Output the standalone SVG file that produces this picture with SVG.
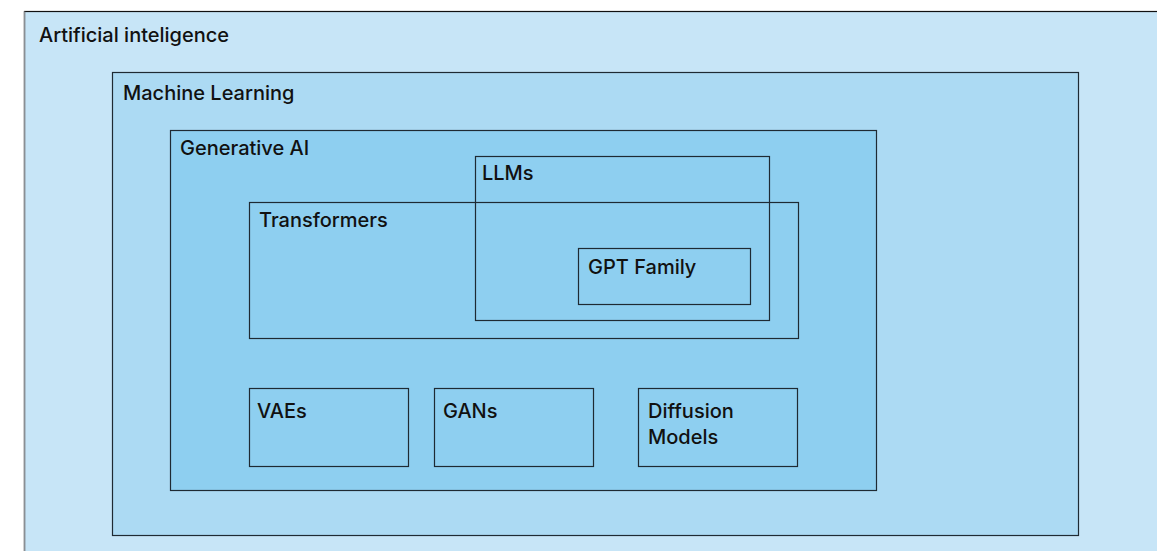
<svg xmlns="http://www.w3.org/2000/svg" width="1157" height="551" viewBox="0 0 1157 551">
<style>
text{font-family:"Inter","Liberation Sans",sans-serif;font-size:20px;font-weight:500;fill:#111}
.b{fill:none;stroke:#1e2a33;stroke-width:1.2}
</style>
<rect width="1157" height="551" fill="#ffffff"/>
<g id="ai">
<rect x="24.5" y="11.5" width="1140" height="550" fill="#c7e5f7" stroke="#111" stroke-width="1.2"/>
<line x1="24.5" y1="11.5" x2="24.5" y2="551" stroke="#8a8f94" stroke-width="1.5"/>
<text x="39" y="41.5">Artificial inteligence</text>
</g>
<g id="ml">
<rect x="112.5" y="72.5" width="966" height="463" class="b" style="fill:#acdaf3"/>
<text x="123" y="99.5">Machine Learning</text>
</g>
<g id="genai">
<rect x="170.5" y="130.5" width="706" height="360" class="b" style="fill:#8ecff0"/>
<text x="180" y="154.5">Generative AI</text>
</g>
<g id="llms">
<rect x="475.5" y="156.5" width="294" height="164" class="b"/>
<text x="482" y="179.5">LLMs</text>
</g>
<g id="transformers">
<rect x="249.5" y="202.5" width="549" height="136" class="b"/>
<text x="259" y="226.5">Transformers</text>
</g>
<g id="gpt">
<rect x="578.5" y="248.5" width="172" height="56" class="b"/>
<text x="588" y="273.5">GPT Family</text>
</g>
<g id="vaes">
<rect x="249.5" y="388.5" width="159" height="78" class="b"/>
<text x="257" y="417.5">VAEs</text>
</g>
<g id="gans">
<rect x="434.5" y="388.5" width="159" height="78" class="b"/>
<text x="443" y="417.5">GANs</text>
</g>
<g id="diffusion">
<rect x="638.5" y="388.5" width="159" height="78" class="b"/>
<text x="648" y="417.5">Diffusion</text>
<text x="648" y="443.5">Models</text>
</g>
<g id="connectors"/>
</svg>
